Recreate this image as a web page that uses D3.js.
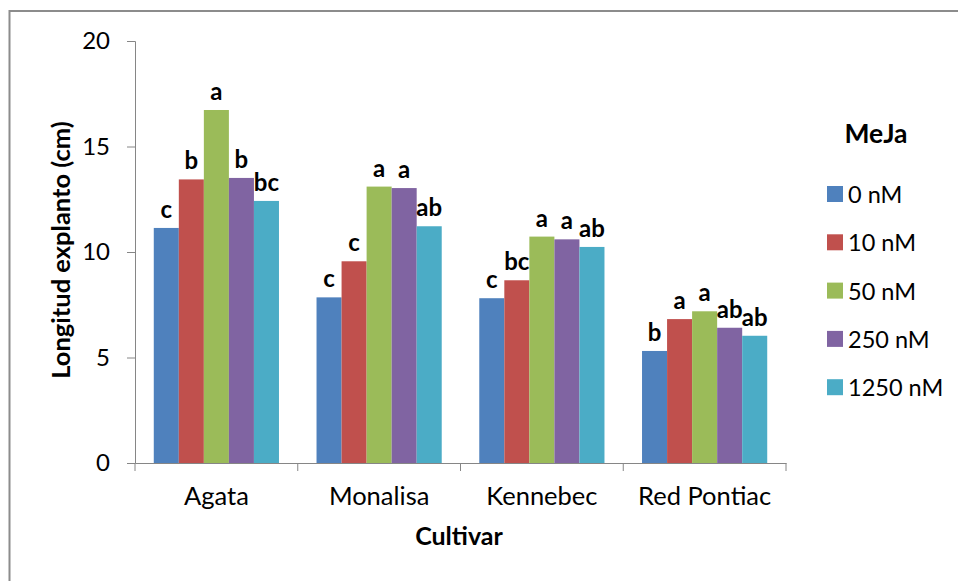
<!DOCTYPE html>
<html>
<head>
<meta charset="utf-8">
<script src="https://cdn.jsdelivr.net/npm/d3@7/dist/d3.min.js"></script>
<style>
  html, body { margin: 0; padding: 0; background: #fff; }
  svg { display: block; }
  text { font-family: Lato, "Open Sans", sans-serif; fill: #000; }
</style>
</head>
<body>
<svg id="chart" width="958" height="581"></svg>
<script>
// Cultivars on the x axis
const cultivars = ["Agata", "Monalisa", "Kennebec", "Red Pontiac"];
// MeJa treatments (legend series)
const treatments = ["0 nM", "10 nM", "50 nM", "250 nM", "1250 nM"];
// Explant length (cm), one array per treatment, ordered like cultivars
const values0 = [11.14, 7.85, 7.81, 5.31];
const values10 = [13.44, 9.56, 8.66, 6.82];
const values50 = [16.73, 13.10, 10.73, 7.19];
const values250 = [13.51, 13.03, 10.60, 6.41];
const values1250 = [12.42, 11.22, 10.24, 6.03];
// Significance letters, same layout as the values
const letters0 = ["c", "c", "c", "b"];
const letters10 = ["b", "c", "bc", "a"];
const letters50 = ["a", "a", "a", "a"];
const letters250 = ["b", "a", "a", "ab"];
const letters1250 = ["bc", "ab", "ab", "ab"];
const yTicks = [0, 5, 10, 15, 20];

const seriesValues = [values0, values10, values50, values250, values1250];
const seriesLetters = [letters0, letters10, letters50, letters250, letters1250];
const colors = ["#4F81BD", "#C0504D", "#9BBB59", "#8064A2", "#4BACC6"];

const svg = d3.select("#chart");

// outer chart frame
svg.append("rect")
  .attr("x", 9.5).attr("y", 11).attr("width", 1000).attr("height", 700)
  .attr("fill", "none").attr("stroke", "#8c8c8c").attr("stroke-width", 2);

const plot = { left: 135, right: 786, top: 41, bottom: 463 };

const x0 = d3.scaleBand().domain(cultivars)
  .range([plot.left, plot.right]).paddingInner(0).paddingOuter(0);
// gap of 1.5 bar widths split around each group of five bars
const groupPad = 1.5 / 6.5;
const x1 = d3.scaleBand().domain(treatments)
  .range([x0.bandwidth() * groupPad / 2, x0.bandwidth() * (1 - groupPad / 2)]);
const y = d3.scaleLinear().domain([0, 20]).range([plot.bottom, plot.top]);

// y axis
const yAxis = svg.append("g")
  .attr("transform", `translate(${plot.left},0)`)
  .call(d3.axisLeft(y).tickValues(yTicks).tickSize(8).tickPadding(17).tickFormat(d3.format("d")));
yAxis.select(".domain").attr("stroke", "#868686");
yAxis.selectAll(".tick line").attr("stroke", "#868686");
yAxis.selectAll(".tick text")
  .style("font-size", "24px").style("font-family", "Lato, sans-serif").attr("fill", "#000");

// bars
const groups = svg.append("g").selectAll("g")
  .data(cultivars).join("g")
  .attr("transform", d => `translate(${x0(d)},0)`);

groups.selectAll("rect")
  .data((c, ci) => treatments.map((t, ti) => ({ t, v: seriesValues[ti][ci], ti })))
  .join("rect")
  .attr("x", d => x1(d.t))
  .attr("width", x1.bandwidth())
  .attr("y", d => y(d.v))
  .attr("height", d => y(0) - y(d.v))
  .attr("fill", d => colors[d.ti]);

groups.selectAll("text")
  .data((c, ci) => treatments.map((t, ti) => ({ t, v: seriesValues[ti][ci], l: seriesLetters[ti][ci] })))
  .join("text")
  .attr("x", d => x1(d.t) + x1.bandwidth() / 2)
  .attr("y", d => y(d.v) - 10)
  .attr("text-anchor", "middle")
  .style("font-size", "24px").style("font-weight", "bold")
  .text(d => d.l);

// x axis
const xAxis = svg.append("g")
  .attr("transform", `translate(0,${plot.bottom})`)
  .call(d3.axisBottom(x0).tickSize(0));
xAxis.select(".domain").attr("stroke", "#868686");
xAxis.selectAll(".tick text")
  .attr("y", 42).attr("dy", null)
  .style("font-size", "25.5px").style("font-family", "Lato, sans-serif").attr("fill", "#000");
// category separators
svg.append("g").selectAll("line")
  .data(cultivars.concat([null]))
  .join("line")
  .attr("x1", (d, i) => plot.left + i * x0.bandwidth())
  .attr("x2", (d, i) => plot.left + i * x0.bandwidth())
  .attr("y1", plot.bottom).attr("y2", plot.bottom + 8)
  .attr("stroke", "#868686");

// axis titles
svg.append("text")
  .attr("x", 459).attr("y", 545)
  .attr("text-anchor", "middle")
  .style("font-size", "25px").style("font-weight", "bold")
  .text("Cultivar");

svg.append("text")
  .attr("transform", "translate(70,250) rotate(-90)")
  .attr("text-anchor", "middle")
  .style("font-size", "25.5px").style("font-weight", "bold")
  .text("Longitud explanto (cm)");

// legend
const legend = svg.append("g");
legend.append("text")
  .attr("x", 876).attr("y", 143)
  .attr("text-anchor", "middle")
  .style("font-size", "26.5px").style("font-weight", "bold")
  .text("MeJa");

const items = legend.selectAll("g.item")
  .data(treatments).join("g")
  .attr("class", "item")
  .attr("transform", (d, i) => `translate(827,${194 + i * 48.3})`);
items.append("rect")
  .attr("x", 0).attr("y", -8).attr("width", 16).attr("height", 16)
  .attr("fill", (d, i) => colors[i]);
items.append("text")
  .attr("x", 21).attr("y", 9)
  .style("font-size", "23.5px")
  .text(d => d);
</script>
</body>
</html>
